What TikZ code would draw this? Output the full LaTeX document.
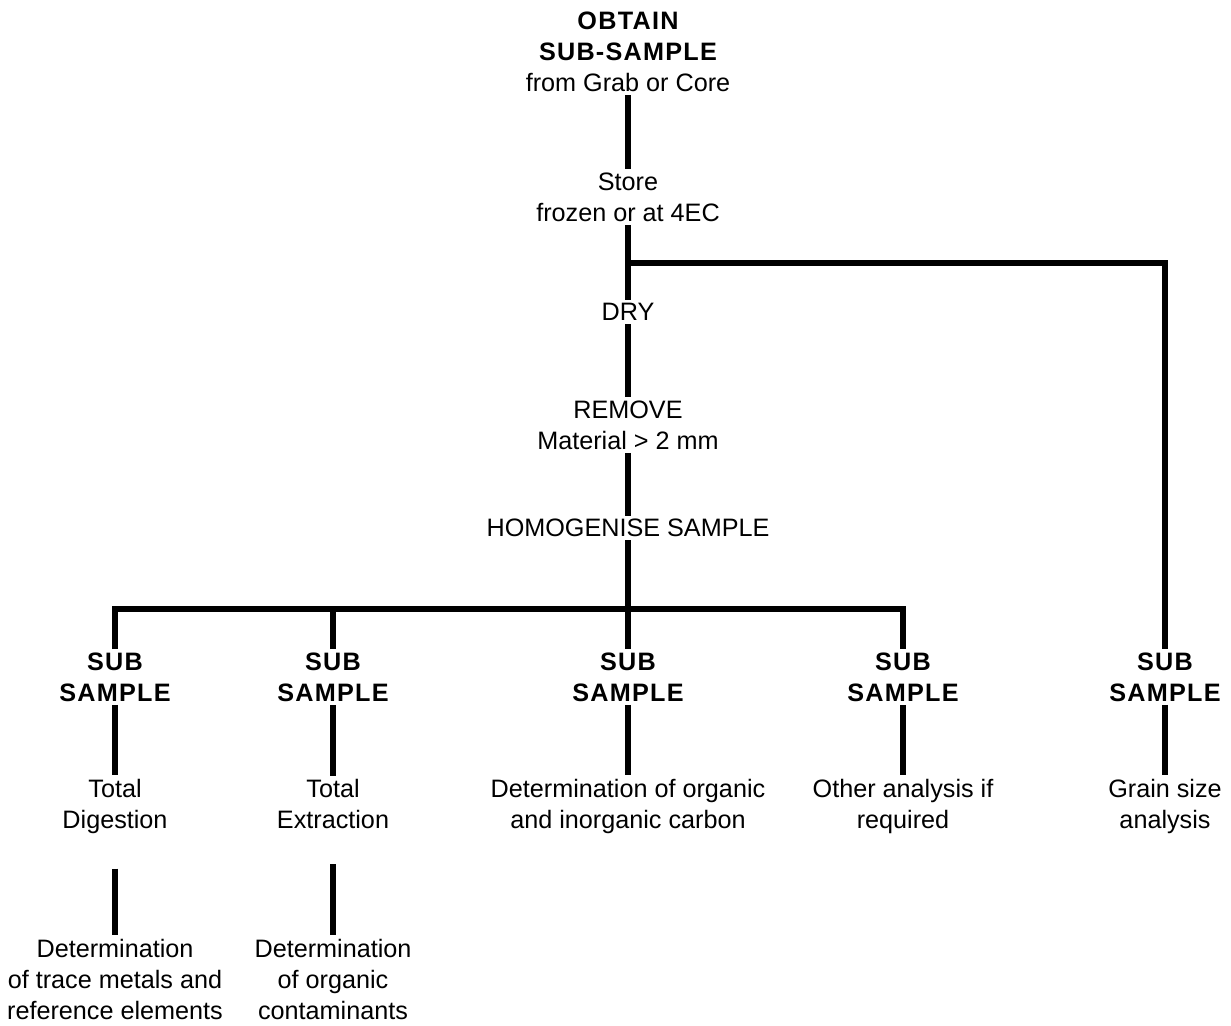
\documentclass[tikz,border=0pt]{standalone}
\usepackage{fontspec}
\setmainfont{Liberation Sans}
\newfontfamily\headfont{Liberation Sans}[LetterSpace=5]
\usetikzlibrary{positioning}

\begin{document}
\begin{tikzpicture}
  [
    x=0.5pt, y=-0.5pt,
    Step/.style={align=center, inner sep=1.5pt, font=\fontsize{12.6}{15.5}\selectfont},
    Head/.style={Step, font=\fontsize{12.6}{15.5}\selectfont\headfont\bfseries},
    Line/.style={line width=2.8pt}
  ]
  \useasboundingbox (0,0) rectangle (1231,1025);
  % Nodes
  \node[Head] (obtain) at (628,52) {OBTAIN\\SUB-SAMPLE\\\normalfont from Grab or Core};
  \node[Step] (store) at (628,197) {Store\\frozen or at 4EC};
  \node[Step] (dry) at (628,312) {DRY};
  \node[Step] (remove) at (628,425) {REMOVE\\Material > 2 mm};
  \node[Step] (homog) at (628,528) {HOMOGENISE SAMPLE};
  \node[Head] (sub1) at (115,677) {SUB\\SAMPLE};
  \node[Head] (sub2) at (333,677) {SUB\\SAMPLE};
  \node[Head] (sub3) at (628,677) {SUB\\SAMPLE};
  \node[Head] (sub4) at (903,677) {SUB\\SAMPLE};
  \node[Head] (sub5) at (1165,677) {SUB\\SAMPLE};
  \node[Step] (digest) at (115,806) {Total\\Digestion};
  \node[Step] (extract) at (333,804) {Total\\Extraction};
  \node[Step] (carbon) at (628,806) {Determination of organic\\and inorganic carbon};
  \node[Step] (other) at (903,806) {Other analysis if\\required};
  \node[Step] (grain) at (1165,806) {Grain size\\analysis};
  \node[Step] (metals) at (115,979) {Determination\\of trace metals and\\reference elements};
  \node[Step] (organics) at (333,979) {Determination\\of organic\\contaminants};
  \coordinate (split) at (628,263);
  \coordinate (fork) at (628,609);
  % Lines
  \draw[Line] (obtain.south) -- (store.north);
  \draw[Line] (store.south) -- (dry.north);
  \draw[Line] (split) -| (sub5.north);
  \draw[Line] (dry.south) -- (remove.north);
  \draw[Line] (remove.south) -- (homog.north);
  \draw[Line] (homog.south) -- (sub3.north);
  \draw[Line] (sub1.north) |- (fork) -| (sub4.north);
  \draw[Line] (sub2.north) -- (sub2.north |- fork);
  \foreach \a/\b in {sub1/digest, sub2/extract, sub3/carbon, sub4/other, sub5/grain}
    \draw[Line] (\a.south) -- (\b.north);
  \foreach \a/\b in {digest/metals, extract/organics}
    \draw[Line, shorten <=16pt] (\a.south) -- (\b.north);
\end{tikzpicture}
\end{document}
